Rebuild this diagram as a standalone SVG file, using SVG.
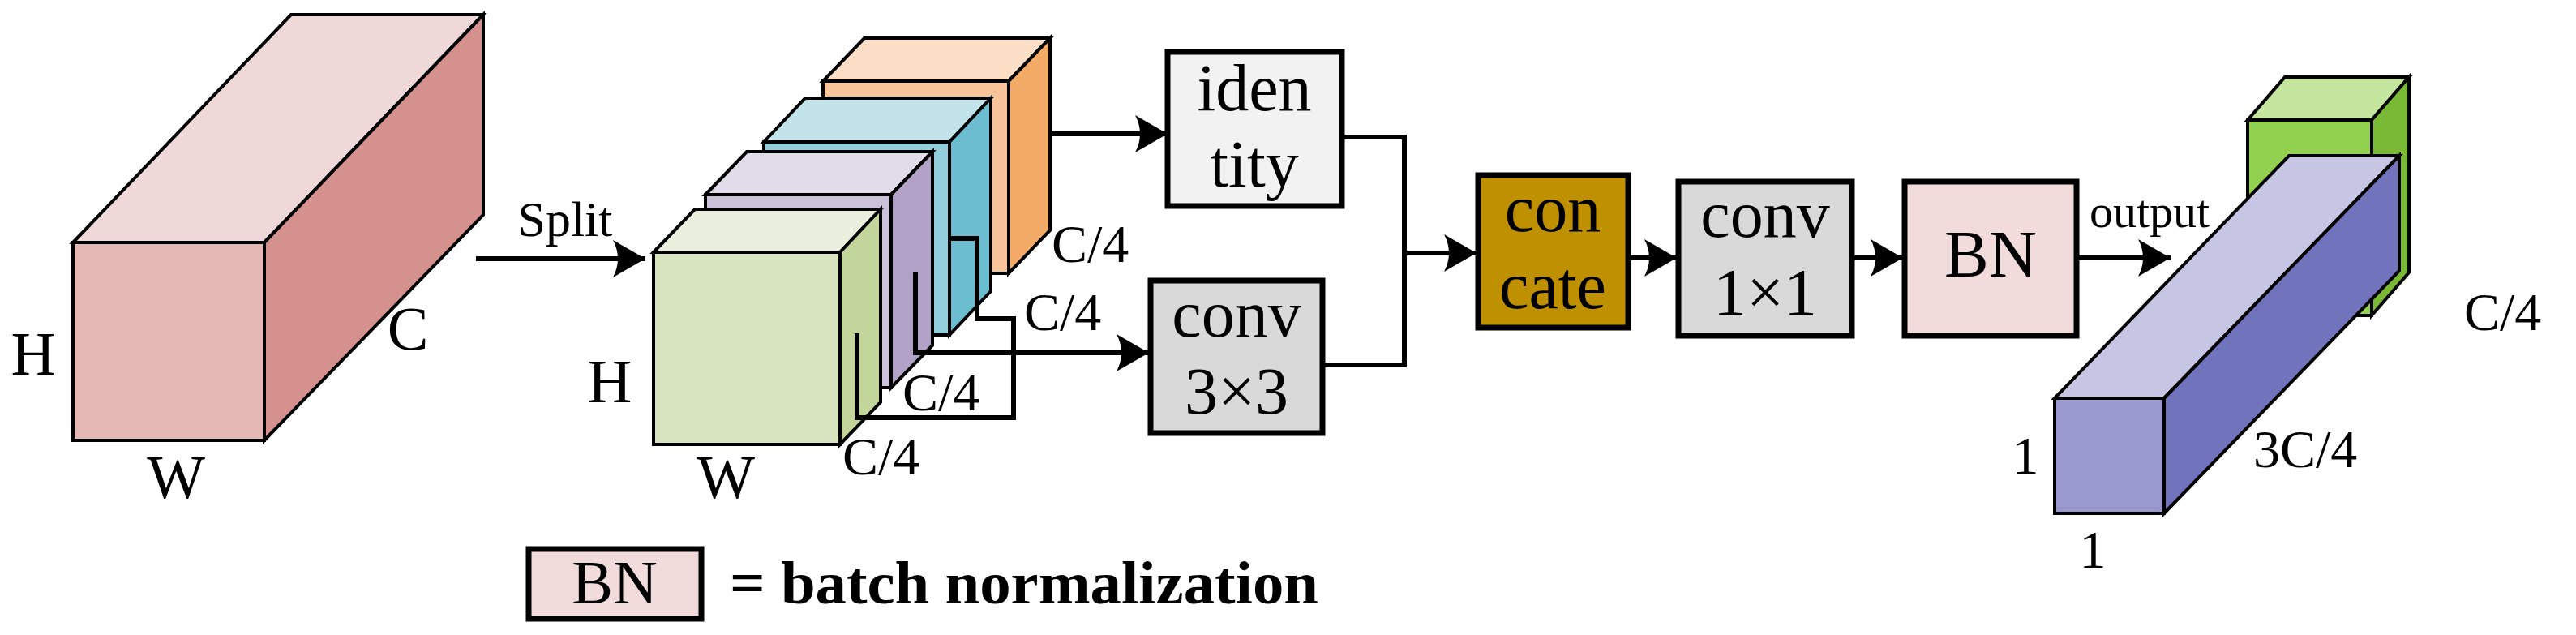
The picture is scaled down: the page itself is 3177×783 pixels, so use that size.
<svg xmlns="http://www.w3.org/2000/svg" width="3177" height="783" viewBox="0 0 3177 783">
<style>
.f{stroke:#000;stroke-width:4;stroke-linejoin:miter}
.b{stroke:#000;stroke-width:7}
.t{font-family:"Liberation Serif","Times New Roman",serif;fill:#000}
.c{stroke:#000;stroke-width:6;fill:none}
</style>
<defs>
<marker id="ah" markerWidth="40" markerHeight="46" refX="40" refY="23" orient="auto" markerUnits="userSpaceOnUse" viewBox="0 0 40 46">
<path d="M0,0 L40,23 L0,46 Q12,23 0,0Z" fill="#000"/>
</marker>
</defs>
<rect width="3177" height="783" fill="#fff"/>
<g id="input-cube">
<polygon class="f" fill="#efd9d8" points="90,299 359,18 596,18 326,299"/>
<polygon class="f" fill="#d4918e" points="326,299 596,18 596,265 326,543"/>
<rect class="f" fill="#e4b8b5" x="90" y="299" width="236" height="244"/>
<text class="t" x="41" y="462" font-size="76" text-anchor="middle">H</text>
<text class="t" x="217" y="614" font-size="76" text-anchor="middle">W</text>
<text class="t" x="503" y="431" font-size="76" text-anchor="middle">C</text>
</g>
<g id="split-cubes">
<polygon class="f" fill="#fcdfc6" points="1015,100 1066,47 1295,47 1244,100"/>
<polygon class="f" fill="#f4ab67" points="1244,100 1295,47 1295,284 1244,337"/>
<rect class="f" fill="#f9c499" x="1015" y="100" width="229" height="237"/>
<polygon class="f" fill="#c3e3ea" points="942,175 993,121 1222,121 1171,175"/>
<polygon class="f" fill="#6bbdcf" points="1171,175 1222,121 1222,359 1171,413"/>
<rect class="f" fill="#93cedc" x="942" y="175" width="229" height="238"/>
<polygon class="f" fill="#e0dcea" points="870,240 921,187 1150,187 1099,240"/>
<polygon class="f" fill="#b2a2c7" points="1099,240 1150,187 1150,426 1099,478"/>
<rect class="f" fill="#ccc1da" x="870" y="240" width="229" height="238"/>
<polygon class="f" fill="#ebf0de" points="806,311 857,258 1086,258 1036,311"/>
<polygon class="f" fill="#c2d69b" points="1036,311 1086,258 1086,496 1036,548"/>
<rect class="f" fill="#d8e4bf" x="806" y="311" width="230" height="237"/>
<text class="t" x="752" y="496" font-size="76" text-anchor="middle">H</text>
<text class="t" x="895" y="614" font-size="76" text-anchor="middle">W</text>
<text class="t" x="1039" y="585" font-size="66">C/4</text>
<text class="t" x="1113" y="506" font-size="66">C/4</text>
<text class="t" x="1263" y="407" font-size="66">C/4</text>
<text class="t" x="1297" y="323" font-size="66">C/4</text>
</g>
<g id="identity">
<rect class="b" fill="#f2f2f2" x="1440" y="64" width="215" height="190"/>
<text class="t" x="1547" y="136" font-size="82" text-anchor="middle">iden</text>
<text class="t" x="1547" y="230" font-size="82" text-anchor="middle">tity</text>
</g>
<g id="conv3x3">
<rect class="b" fill="#d9d9d9" x="1419" y="346" width="212" height="188"/>
<text class="t" x="1525" y="415" font-size="82" text-anchor="middle">conv</text>
<text class="t" x="1525" y="510" font-size="82" text-anchor="middle">3×3</text>
</g>
<g id="concate">
<rect class="b" fill="#bf9000" x="1823" y="216" width="185" height="188"/>
<text class="t" x="1915" y="285" font-size="82" text-anchor="middle">con</text>
<text class="t" x="1915" y="380" font-size="82" text-anchor="middle">cate</text>
</g>
<g id="conv1x1">
<rect class="b" fill="#d9d9d9" x="2070" y="224" width="214" height="190"/>
<text class="t" x="2177" y="292" font-size="82" text-anchor="middle">conv</text>
<text class="t" x="2177" y="388" font-size="82" text-anchor="middle">1×1</text>
</g>
<g id="bn">
<rect class="b" fill="#f2dcdb" x="2349" y="224" width="212" height="190"/>
<text class="t" x="2455" y="341" font-size="82" text-anchor="middle">BN</text>
</g>
<g id="output-cubes">
<polygon class="f" fill="#c4e59e" points="2772,148 2818,95 2971,95 2925,148"/>
<polygon class="f" fill="#7ab935" points="2925,148 2971,95 2971,336 2925,389"/>
<rect class="f" fill="#92d050" x="2772" y="148" width="153" height="241"/>
<polygon class="f" fill="#c6c6e4" points="2534,491 2823,192 2959,192 2669,491"/>
<polygon class="f" fill="#7174bd" points="2669,491 2959,192 2959,334 2669,633"/>
<rect class="f" fill="#9999cf" x="2534" y="491" width="135" height="142"/>
<text class="t" x="3039" y="407" font-size="66">C/4</text>
<text class="t" x="2779" y="576" font-size="66">3C/4</text>
<text class="t" x="2498" y="584" font-size="66" text-anchor="middle">1</text>
<text class="t" x="2581" y="700" font-size="66" text-anchor="middle">1</text>
<text class="t" x="2577" y="280" font-size="58">output</text>
</g>
<g id="legend">
<rect class="b" fill="#f2dcdb" x="652" y="677" width="213" height="86"/>
<text class="t" x="758" y="744" font-size="76" text-anchor="middle">BN</text>
<text class="t" x="900" y="744" font-size="74" font-weight="bold" textLength="726" lengthAdjust="spacingAndGlyphs">= batch normalization</text>
</g>
<g id="connectors">
<line class="c" x1="587" y1="319" x2="796" y2="319" marker-end="url(#ah)"/>
<text class="t" x="697" y="291" font-size="62" text-anchor="middle">Split</text>
<line class="c" x1="1295" y1="165" x2="1440" y2="165" marker-end="url(#ah)"/>
<path class="c" d="M1129,336 V435 H1417" marker-end="url(#ah)"/>
<path class="c" d="M1057,411 V515 H1250 V393 H1205 V294 H1172"/>
<path class="c" d="M1655,169 H1732 V450 H1631"/>
<line class="c" x1="1732" y1="312" x2="1821" y2="312" marker-end="url(#ah)"/>
<line class="c" x1="2008" y1="318" x2="2068" y2="318" marker-end="url(#ah)"/>
<line class="c" x1="2284" y1="318" x2="2347" y2="318" marker-end="url(#ah)"/>
<line class="c" x1="2561" y1="318" x2="2677" y2="318" marker-end="url(#ah)"/>
</g>
</svg>
